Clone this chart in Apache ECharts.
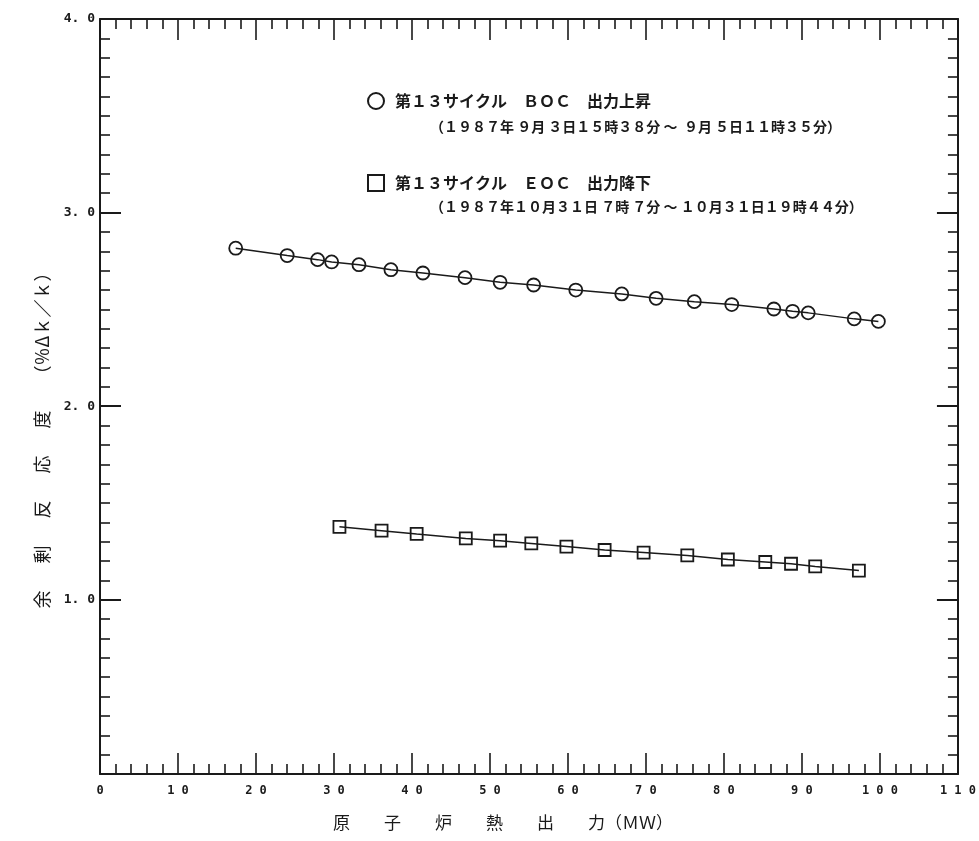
<!DOCTYPE html>
<html>
<head>
<meta charset="utf-8">
<title>余剰反応度</title>
<script src="https://cdn.jsdelivr.net/npm/echarts@6/dist/echarts.min.js"></script>
<style>
  html, body { margin: 0; padding: 0; background: #fff; }
  #chart { width: 979px; height: 841px; }
</style>
</head>
<body>
<div id="chart"></div>
<script>
// 第13サイクル BOC 出力上昇 (○)
var riseX = [17.4, 24.0, 27.9, 29.7, 33.2, 37.3, 41.4, 46.8, 51.3, 55.6, 61.0, 66.9, 71.3, 76.2, 81.0, 86.4, 88.8, 90.8, 96.7, 99.8];
var riseY = [2.816, 2.778, 2.757, 2.745, 2.731, 2.705, 2.688, 2.664, 2.640, 2.626, 2.600, 2.580, 2.557, 2.540, 2.525, 2.502, 2.490, 2.482, 2.451, 2.438];
// 第13サイクル EOC 出力降下 (□)
var fallX = [30.7, 36.1, 40.6, 46.9, 51.3, 55.3, 59.8, 64.7, 69.7, 75.3, 80.5, 85.3, 88.6, 91.7, 97.3];
var fallY = [1.377, 1.357, 1.340, 1.317, 1.305, 1.291, 1.275, 1.257, 1.244, 1.229, 1.208, 1.195, 1.186, 1.172, 1.151];

var seriesNames = ['第１３サイクル　ＢＯＣ　出力上昇', '第１３サイクル　ＥＯＣ　出力降下'];
var seriesPeriods = ['（１９８７年 ９月 ３日１５時３８分 ～  ９月 ５日１１時３５分）', '（１９８７年１０月３１日 ７時 ７分 ～ １０月３１日１９時４４分）'];
var majorY = [1, 2, 3, 4];
var xTitle = '原　　子　　炉　　熱　　出　　力（ＭＷ）';
var yTitle = '余\u3000\u2002剰\u3000\u2002反\u3000\u2002応\u3000\u2002度\u3000\u2002（％Δｋ／ｋ）';

var font = '"Noto Sans CJK JP", "DejaVu Sans", sans-serif';
var mono = '"DejaVu Sans Mono", "Liberation Mono", monospace';
var ink = '#1a1a1a';

function pairs(xs, ys){
    var out = [];
    for(var i = 0; i < xs.length; i++){
        out.push([xs[i], ys[i]]);
    }
    return out;
}

function spaced(v){
    return String(v).split('').join(' ');
}

function xAxisCfg(pos, labels){
    return {
        type: 'value', position: pos, min: 0, max: 110, interval: 10,
        axisLine: {show: true, lineStyle: {color: ink, width: 2}},
        axisTick: {show: true, inside: true, length: 21, lineStyle: {color: ink, width: 1.6}},
        minorTick: {show: true, splitNumber: 5, length: 10, lineStyle: {color: ink, width: 1.6}},
        axisLabel: {show: labels, margin: 11, color: ink, fontFamily: mono, fontWeight: 'bold', fontSize: 12,
            formatter: function(v){ return spaced(v); }},
        splitLine: {show: false}
    };
}

function yMinorCfg(pos, labels){
    return {
        type: 'value', position: pos, min: 0.1, max: 4.0, interval: 0.1,
        axisLine: {show: true, lineStyle: {color: ink, width: 2}},
        axisTick: {show: true, inside: true, length: 10, lineStyle: {color: ink, width: 1.6}},
        axisLabel: {show: labels, interval: 0, margin: 5, color: ink, fontFamily: mono, fontWeight: 'bold', fontSize: 13,
            formatter: function(v){
                if(Math.abs(v - Math.round(v)) > 1e-6) return '';
                return v.toFixed(1).replace('.', '. ');
            }},
        splitLine: {show: false}
    };
}

function yMajorCfg(pos){
    return {
        type: 'value', position: pos, min: 0.1, max: 4.0,
        axisLine: {show: false},
        axisTick: {show: true, inside: true, length: 21, customValues: majorY, lineStyle: {color: ink, width: 2}},
        axisLabel: {show: false},
        splitLine: {show: false}
    };
}

var myChart = echarts.init(document.getElementById('chart'));

var option = {
    backgroundColor: '#fff',
    animation: false,
    grid: {left: 100, right: 21, top: 19, bottom: 67, containLabel: false},
    xAxis: [xAxisCfg('bottom', true), xAxisCfg('top', false)],
    yAxis: [yMinorCfg('left', true), yMajorCfg('left'), yMinorCfg('right', false), yMajorCfg('right')],
    legend: {
        orient: 'vertical',
        left: 362, top: 87,
        itemWidth: 16, itemHeight: 16, itemGap: 64,
        itemStyle: {color: '#fff', borderColor: ink, borderWidth: 2},
        textStyle: {color: ink, fontFamily: font, fontWeight: 'bold', fontSize: 16, padding: [0, 0, 0, 6]},
        data: [{name: seriesNames[0], icon: 'circle'}, {name: seriesNames[1], icon: 'rect'}]
    },
    graphic: [
        {type: 'text', left: 430, top: 120, style: {text: seriesPeriods[0], fill: ink, font: 'bold 14px ' + font}},
        {type: 'text', left: 430, top: 200, style: {text: seriesPeriods[1], fill: ink, font: 'bold 14px ' + font}},
        {type: 'text', x: 503, y: 823, style: {text: xTitle, fill: ink, font: '17px ' + font, align: 'center', verticalAlign: 'middle'}},
        {type: 'text', x: 42, y: 436, rotation: Math.PI / 2, style: {text: yTitle, fill: ink, font: '18px ' + font, align: 'center', verticalAlign: 'middle'}}
    ],
    series: [
        {
            name: seriesNames[0], type: 'line', xAxisIndex: 0, yAxisIndex: 0,
            data: pairs(riseX, riseY),
            symbol: 'circle', symbolSize: 13,
            itemStyle: {color: 'rgba(255,255,255,0)', borderColor: ink, borderWidth: 1.8},
            lineStyle: {color: ink, width: 1.5}
        },
        {
            name: seriesNames[1], type: 'line', xAxisIndex: 0, yAxisIndex: 0,
            data: pairs(fallX, fallY),
            symbol: 'rect', symbolSize: 12,
            itemStyle: {color: 'rgba(255,255,255,0)', borderColor: ink, borderWidth: 1.8},
            lineStyle: {color: ink, width: 1.5}
        }
    ]
};
myChart.setOption(option);
</script>
</body>
</html>
